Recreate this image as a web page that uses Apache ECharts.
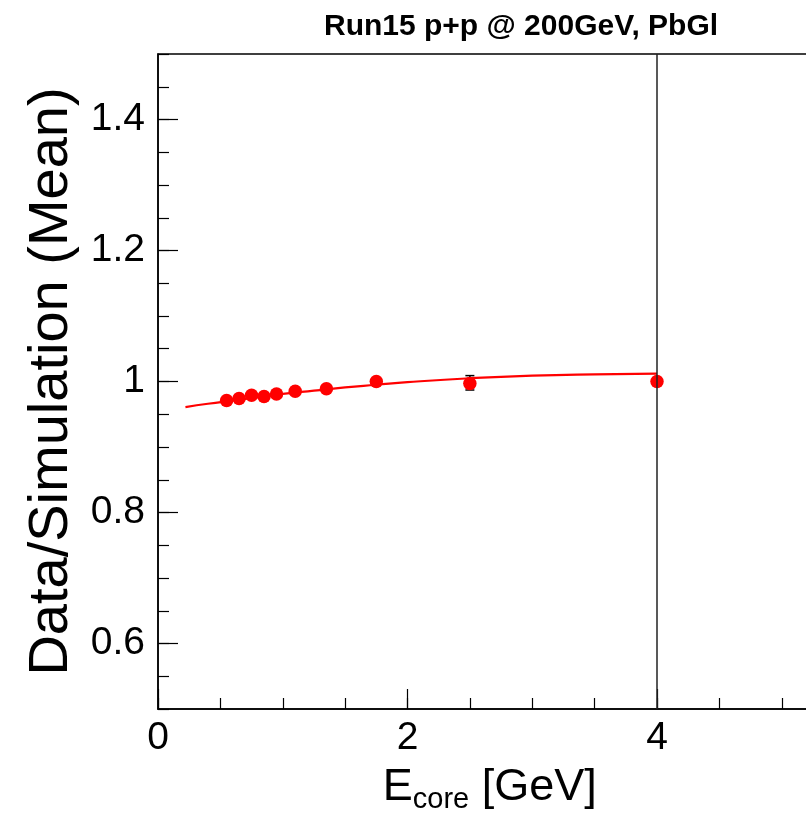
<!DOCTYPE html>
<html>
<head>
<meta charset="utf-8">
<script src="https://cdn.jsdelivr.net/npm/echarts@6/dist/echarts.min.js"></script>
<style>
  html, body { margin: 0; padding: 0; background: #fff; }
  #chart { width: 806px; height: 816px; }
</style>
</head>
<body>
<div id="chart"></div>
<script>
// 数据点 (E_core, Data/Simulation)
const eCore = [0.55, 0.65, 0.75, 0.85, 0.95, 1.1, 1.35, 1.75, 2.5, 4.0];
const ratio = [0.971, 0.974, 0.979, 0.977, 0.981, 0.985, 0.989, 1.000, 0.997, 1.000];
const errLow = [0.967, 0.970, 0.975, 0.973, 0.977, 0.981, 0.985, 0.996, 0.987, 0.996];
const errHigh = [0.975, 0.978, 0.983, 0.981, 0.985, 0.989, 0.993, 1.004, 1.009, 1.004];

// 拟合曲线
const fitX = [0.22, 0.4, 0.6, 0.8, 1.0, 1.25, 1.5, 1.75, 2.0, 2.5, 3.0, 3.5, 4.0];
const fitY = [0.961, 0.966, 0.971, 0.976, 0.981, 0.986, 0.991, 0.995, 0.999, 1.005, 1.009, 1.011, 1.012];

// 坐标轴刻度
const yMajorTicks = [0.6, 0.8, 1.0, 1.2, 1.4];
const xMajorTicks = [0, 2, 4];
const cutLine = 4; // 竖线位置

const FONT = 'Liberation Sans';

const chart = echarts.init(document.getElementById('chart'));

const option = {
  animation: false,
  title: {
    text: 'Run15 p+p @ 200GeV, PbGl',
    left: 319,
    top: 7,
    textStyle: { fontFamily: FONT, fontWeight: 'bold', fontSize: 30, color: '#000' },
  },
  grid: {
    left: 158,
    top: 54,
    width: 748.5,
    height: 655,
    outerBoundsMode: 'none', // 允许图表超出右边界
    show: true,
    borderColor: '#000',
    borderWidth: 1.5,
  },
  xAxis: [
    {
      // 次刻度
      type: 'value',
      min: 0,
      max: 6,
      interval: 0.5,
      axisLine: { show: true, lineStyle: { color: '#000', width: 1.5 } },
      axisTick: { show: true, inside: true, length: 11, lineStyle: { color: '#000', width: 1.2 } },
      axisLabel: { show: false },
      splitLine: { show: false },
      name: '{m|E}{s|core}{m| [GeV]}',
      nameLocation: 'middle',
      nameGap: 52,
      nameTextStyle: {
        padding: [0, 85, 0, 0],
        rich: {
          m: { fontFamily: FONT, fontSize: 45, color: '#000' },
          s: { fontFamily: FONT, fontSize: 29, color: '#000', padding: [24, 0, 0, 0] },
        },
      },
    },
    {
      // 主刻度 + 标签
      type: 'value',
      min: 0,
      max: 6,
      interval: 2,
      position: 'bottom',
      axisLine: { show: false },
      axisTick: { show: true, inside: true, length: 20, customValues: xMajorTicks, lineStyle: { color: '#000', width: 1.2 } },
      axisLabel: {
        show: true,
        customValues: xMajorTicks,
        margin: 10,
        fontFamily: FONT,
        fontSize: 39,
        color: '#000',
      },
      splitLine: { show: false },
    },
  ],
  yAxis: [
    {
      // 次刻度
      type: 'value',
      min: 0.5,
      max: 1.5,
      interval: 0.05,
      position: 'left',
      axisLine: { show: true, lineStyle: { color: '#000', width: 1.5 } },
      axisTick: { show: true, inside: true, length: 11, lineStyle: { color: '#000', width: 1.2 } },
      axisLabel: { show: false },
      splitLine: { show: false },
      name: 'Data/Simulation (Mean)',
      nameLocation: 'middle',
      nameGap: 78,
      nameTextStyle: { fontFamily: FONT, fontSize: 56, color: '#000' },
    },
    {
      // 主刻度 + 标签
      type: 'value',
      min: 0.5,
      max: 1.5,
      position: 'left',
      offset: 0,
      axisLine: { show: false },
      axisTick: {
        show: true,
        inside: true,
        length: 20,
        customValues: yMajorTicks,
        lineStyle: { color: '#000', width: 1.2 },
      },
      axisLabel: {
        show: true,
        customValues: yMajorTicks,
        margin: 13,
        fontFamily: FONT,
        fontSize: 39,
        color: '#000',
        formatter: (v) => String(Math.round(v * 10) / 10),
      },
      splitLine: { show: false },
    },
  ],
  series: [
    {
      name: 'fit',
      type: 'line',
      smooth: true,
      symbol: 'none',
      data: fitX.map((x, i) => [x, fitY[i]]),
      lineStyle: { color: '#ff0000', width: 2.2 },
      z: 2,
      markLine: {
        silent: true,
        symbol: 'none',
        label: { show: false },
        lineStyle: { color: '#222', width: 1.5, type: 'solid' },
        data: [{ xAxis: cutLine }],
      },
    },
    {
      name: 'errors',
      type: 'custom',
      data: eCore.map((x, i) => [x, errLow[i], errHigh[i]]),
      z: 3,
      renderItem: (params, api) => {
        const lo = api.coord([api.value(0), api.value(1)]);
        const hi = api.coord([api.value(0), api.value(2)]);
        const cap = 4.5;
        const style = { stroke: '#000', lineWidth: 1.5 };
        return {
          type: 'group',
          children: [
            { type: 'line', shape: { x1: lo[0], y1: lo[1], x2: hi[0], y2: hi[1] }, style },
            { type: 'line', shape: { x1: lo[0] - cap, y1: lo[1], x2: lo[0] + cap, y2: lo[1] }, style },
            { type: 'line', shape: { x1: hi[0] - cap, y1: hi[1], x2: hi[0] + cap, y2: hi[1] }, style },
          ],
        };
      },
    },
    {
      name: 'data',
      type: 'scatter',
      symbol: 'circle',
      symbolSize: 13.5,
      data: eCore.map((x, i) => [x, ratio[i]]),
      itemStyle: { color: '#ff0000', opacity: 1 },
      z: 4,
    },
  ],
};

chart.setOption(option);
</script>
</body>
</html>
